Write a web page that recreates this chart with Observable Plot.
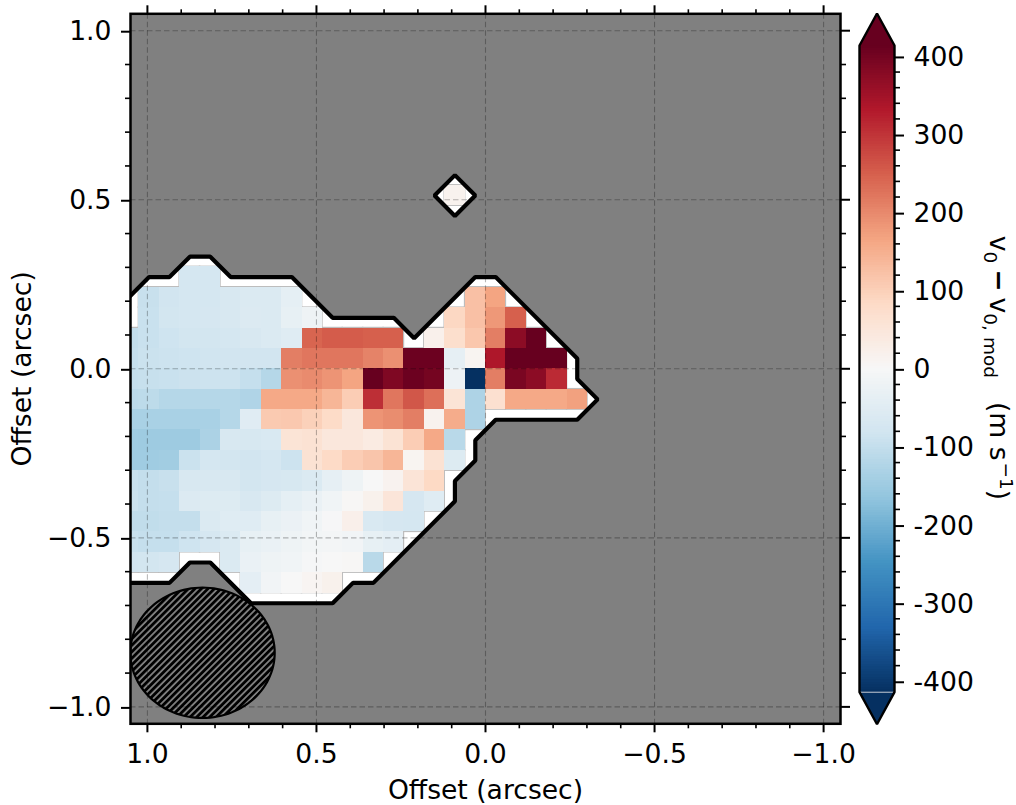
<!DOCTYPE html>
<html>
<head>
<meta charset="utf-8">
<script src="https://cdn.jsdelivr.net/npm/d3@7"></script>
<script src="https://cdn.jsdelivr.net/npm/@observablehq/plot@0.6"></script>
<style>
  html, body { margin: 0; padding: 0; background: white; }
  #chart { position: relative; width: 1016px; height: 805px; overflow: hidden; }
  #chart svg { position: absolute; top: 0; left: 0; }
</style>
</head>
<body>
<div id="chart"></div>
<script>
const _ = null;
// residual velocity per map pixel (m/s); rows top to bottom, columns left (east) to right
const row00 = [_,_,_,-75,-75];
const row01 = [_,-95,-81,-75,-75,-67,-62,-60,-39,_,_,_,_,_,_,_,_,124,166];
const row02 = [_,-93,-78,-75,-72,-67,-59,-60,-34,-19,_,_,_,_,_,_,88,124,181,248];
const row03 = [-101,-93,-85,-78,-78,-75,-67,-62,-52,243,253,253,248,248,_,21,72,114,212,373,414];
const row04 = [-98,-91,-88,-85,-83,-81,-81,-81,212,222,222,222,207,191,409,409,-36,10,336,414,414,414];
const row05 = [-98,-96,-93,-90,-88,-88,-98,-119,191,197,186,166,414,388,409,398,-21,-414,212,393,373,310];
const row06 = [-112,-109,-119,-119,-119,-119,-126,160,160,160,140,104,305,222,259,230,57,-129,67,160,160,160,171];
const row07 = [-135,-135,-135,-135,-135,-119,-50,109,112,98,81,47,186,195,212,16,155,-129];
const row08 = [-148,-150,-150,-150,-132,-67,-70,-65,57,62,47,47,36,60,104,160,-114];
const row09 = [-147,-147,-145,-91,-75,-78,-81,-75,-88,62,83,104,116,140,10,62,-57];
const row10 = [-93,-100,-95,-67,-67,-67,-78,-72,-69,-60,-36,-19,0,14,55,85];
const row11 = [-91,-100,-98,-59,-57,-57,-67,-57,-39,-29,-16,3,19,52,-72,-52];
const row12 = [-104,-104,-100,-100,-60,-52,-52,-34,-26,-16,-3,23,-65,-72,-75];
const row13 = [-93,-98,-98,-85,-72,-62,-34,-28,-19,-10,-8,-13,-34,-41];
const row14 = [-81,-79,-72,_,_,-62,-28,-19,-16,-4,0,3,-114];
const row15 = [_,_,_,_,_,_,-41,-13,0,8,19];
const mapRows = [row00,row01,row02,row03,row04,row05,row06,row07,row08,row09,row10,row11,row12,row13,row14,row15];
// isolated pixel
const spotCol = 16, spotRow = -4, spotValue = 15;

// pixel grid in arcsec
const cellSize = 0.0603;
const gridLeft = 1.0854;
const gridTop = 0.3015;

// contour vertices, in pixel-grid index units
const contourCols = [-1,0,0,1,2,3,4,5,8,10,13,14,17,18,22,22,23,22,18,17,17,16,16,12,11,10,6,4,3,2,-1];
const contourRows = [3,2,1,0,0,-1,-1,0,0,2,2,3,0,0,4,5,6,7,7,8,9,10,11,15,15,16,16,14,14,15,15];
const spotContourCols = [15,16,17,16];
const spotContourRows = [-4,-5,-4,-3];

// beam ellipse (arcsec)
const beamX = 0.837, beamY = -0.840, beamA = 0.2135, beamB = 0.1927;

const majorTicks = [-1,-0.5,0,0.5,1];
const minorTicks = [-0.9,-0.8,-0.7,-0.6,-0.4,-0.3,-0.2,-0.1,0.1,0.2,0.3,0.4,0.6,0.7,0.8,0.9];
const cbMajor = [-400,-300,-200,-100,0,100,200,300,400];
const cbMinor = [-380,-360,-340,-320,-280,-260,-240,-220,-180,-160,-140,-120,-80,-60,-40,-20,20,40,60,80,120,140,160,180,220,240,260,280,320,340,360,380];

const cmapStops = [-414,-331.2,-248.4,-165.6,-82.8,0,82.8,165.6,248.4,331.2,414];
const cmapColors = ["#053061","#2166ac","#4393c3","#92c5de","#d1e5f0","#f7f7f7","#fddbc7","#f4a582","#d6604d","#b2182b","#67001f"];

const colX = c => gridLeft - cellSize * c;
const rowY = r => gridTop - cellSize * r;

const cells = [];
mapRows.forEach((row, r) => row.forEach((v, c) => {
  if (v !== null) cells.push({x1: colX(c), x2: colX(c + 1), y1: rowY(r), y2: rowY(r + 1), v});
}));
cells.push({x1: colX(spotCol), x2: colX(spotCol + 1), y1: rowY(spotRow), y2: rowY(spotRow + 1), v: spotValue});

const contour = contourCols.map((c, i) => ({x: colX(c + 0.5), y: rowY(contourRows[i] + 0.5)}));
const spotContour = spotContourCols.map((c, i) => ({x: colX(c + 0.5), y: rowY(spotContourRows[i] + 0.5)}));
const beam = d3.range(0, 360, 3).map(a => ({
  x: beamX + beamA * Math.cos(a * Math.PI / 180),
  y: beamY + beamB * Math.sin(a * Math.PI / 180)
}));

const font = "DejaVu Sans";
const fs = 26.6;
const fmt = d => d.toFixed(1).replace("-", "\u2212");
const colorScale = {type: "linear", domain: cmapStops, range: cmapColors, clamp: true, interpolate: "rgb"};
const gridStyle = {stroke: "black", strokeOpacity: 0.28, strokeWidth: 1.1, strokeDasharray: "5.5 3"};

const main = Plot.plot({
  width: 1016, height: 805,
  marginLeft: 130, marginRight: 176, marginTop: 13.3, marginBottom: 81.7,
  style: {fontFamily: font, fontSize: fs + "px", background: "transparent", color: "black"},
  x: {domain: [1.05, -1.05], label: null},
  y: {domain: [-1.05, 1.05], label: null},
  color: colorScale,
  marks: [
    Plot.frame({fill: "#808080", stroke: "none"}),
    Plot.line(contour, {x: "x", y: "y", curve: "linear-closed", fill: "white", stroke: "none", clip: "frame"}),
    Plot.line(spotContour, {x: "x", y: "y", curve: "linear-closed", fill: "white", stroke: "none"}),
    Plot.rect(cells, {x1: "x1", x2: "x2", y1: "y1", y2: "y2", fill: "none", stroke: "#bdbdbd", strokeWidth: 1.5, clip: "frame"}),
    Plot.rect(cells, {x1: "x1", x2: "x2", y1: "y1", y2: "y2", fill: "v", shapeRendering: "crispEdges", clip: "frame"}),
    Plot.line(contour, {x: "x", y: "y", curve: "linear-closed", stroke: "black", strokeWidth: 4.2, strokeLinejoin: "miter", clip: "frame"}),
    Plot.line(spotContour, {x: "x", y: "y", curve: "linear-closed", stroke: "black", strokeWidth: 4.2, strokeLinejoin: "miter"}),
    Plot.line(beam, {x: "x", y: "y", curve: "linear-closed", fill: "url(#beamHatch)", stroke: "black", strokeWidth: 2.2, clip: "frame"}),
    Plot.ruleX(majorTicks, gridStyle),
    Plot.ruleY(majorTicks, gridStyle),
    Plot.frame({stroke: "black", strokeWidth: 2.5}),
    Plot.axisX(majorTicks, {anchor: "bottom", tickSize: 9, tickPadding: 11, strokeWidth: 2, tickFormat: fmt, label: "Offset (arcsec)", labelAnchor: "center", labelArrow: "none", labelOffset: 75, fontSize: fs}),
    Plot.axisX(majorTicks, {anchor: "top", tickSize: 9, strokeWidth: 2, tickFormat: () => "", label: null}),
    Plot.axisX(minorTicks, {anchor: "bottom", tickSize: 5, strokeWidth: 1.6, tickFormat: () => "", label: null}),
    Plot.axisX(minorTicks, {anchor: "top", tickSize: 5, strokeWidth: 1.6, tickFormat: () => "", label: null}),
    Plot.axisY(majorTicks, {anchor: "left", tickSize: 9, tickPadding: 10, dy: 1, strokeWidth: 2, tickFormat: fmt, label: "Offset (arcsec)", labelAnchor: "center", labelArrow: "none", labelOffset: 118, fontSize: fs}),
    Plot.axisY(majorTicks, {anchor: "right", tickSize: 9, strokeWidth: 2, tickFormat: () => "", label: null}),
    Plot.axisY(minorTicks, {anchor: "left", tickSize: 5, strokeWidth: 1.6, tickFormat: () => "", label: null}),
    Plot.axisY(minorTicks, {anchor: "right", tickSize: 5, strokeWidth: 1.6, tickFormat: () => "", label: null})
  ]
});

const defs = d3.select(main).append("defs");
const pat = defs.append("pattern").attr("id", "beamHatch")
  .attr("patternUnits", "userSpaceOnUse").attr("width", 4.6).attr("height", 4.6)
  .attr("patternTransform", "rotate(45)");
pat.append("rect").attr("width", 4.6).attr("height", 4.6).attr("fill", "#808080");
pat.append("rect").attr("x", 0).attr("y", 0).attr("width", 2.8).attr("height", 4.6).attr("fill", "black");

// colour bar
const cbTop = 414, cbTip = 455;
const cbSteps = d3.range(256).map(i => {
  const a = -414 + 828 * i / 256, b = -414 + 828 * (i + 1) / 256;
  return {y1: a, y2: b, v: (a + b) / 2};
});
const tipUp = [{x: 0, y: cbTop}, {x: 0.5, y: cbTip}, {x: 1, y: cbTop}];
const tipDown = [{x: 0, y: -cbTop}, {x: 0.5, y: -cbTip}, {x: 1, y: -cbTop}];
const outline = [{x: 0, y: cbTop}, {x: 0.5, y: cbTip}, {x: 1, y: cbTop}, {x: 1, y: -cbTop}, {x: 0.5, y: -cbTip}, {x: 0, y: -cbTop}];

const bar = Plot.plot({
  width: 166, height: 805,
  marginLeft: 9, marginRight: 122, marginTop: 45, marginBottom: 113.3,
  style: {fontFamily: font, fontSize: fs + "px", background: "transparent", color: "black"},
  x: {domain: [0, 1], axis: null, label: null},
  y: {domain: [-414, 414], label: null},
  color: colorScale,
  marks: [
    Plot.rect(cbSteps, {x1: 0, x2: 1, y1: "y1", y2: "y2", fill: "v", shapeRendering: "crispEdges"}),
    Plot.line(tipUp, {x: "x", y: "y", curve: "linear-closed", fill: cmapColors[10], stroke: "none"}),
    Plot.line(tipDown, {x: "x", y: "y", curve: "linear-closed", fill: cmapColors[0], stroke: "none"}),
    Plot.ruleY([-cbTop], {x1: 0, x2: 1, stroke: "#b4bcc8", strokeWidth: 1}),
    Plot.line(outline, {x: "x", y: "y", curve: "linear-closed", stroke: "black", strokeWidth: 2.4, strokeLinejoin: "miter"}),
    Plot.axisY(cbMajor, {anchor: "right", tickSize: 9, tickPadding: 10, dy: 1, strokeWidth: 2, tickFormat: d => String(d), label: null, fontSize: fs}),
    Plot.axisY(cbMinor, {anchor: "right", tickSize: 5, strokeWidth: 1.6, tickFormat: () => "", label: null})
  ]
});
bar.style.left = "850px";

const label = d3.select(bar).append("text")
  .attr("transform", "translate(140,368) rotate(90)")
  .attr("text-anchor", "middle")
  .attr("fill", "black")
  .attr("font-family", font)
  .attr("font-size", fs);
label.append("tspan").text("v");
label.append("tspan").attr("dy", 6).attr("font-size", 18.5).text("0");
label.append("tspan").attr("dy", -6).attr("dx", 6).attr("font-weight", "bold").text("\u2212");
label.append("tspan").attr("dx", 6).text("v");
label.append("tspan").attr("dy", 6).attr("font-size", 18.5).text("0, mod");
label.append("tspan").attr("dy", -6).attr("dx", 24).text("(m s");
label.append("tspan").attr("dy", -10).attr("dx", 2).attr("font-size", 18.5).text("\u22121");
label.append("tspan").attr("dy", 10).text(")");

const root = document.getElementById("chart");
root.appendChild(main);
root.appendChild(bar);
</script>
</body>
</html>
